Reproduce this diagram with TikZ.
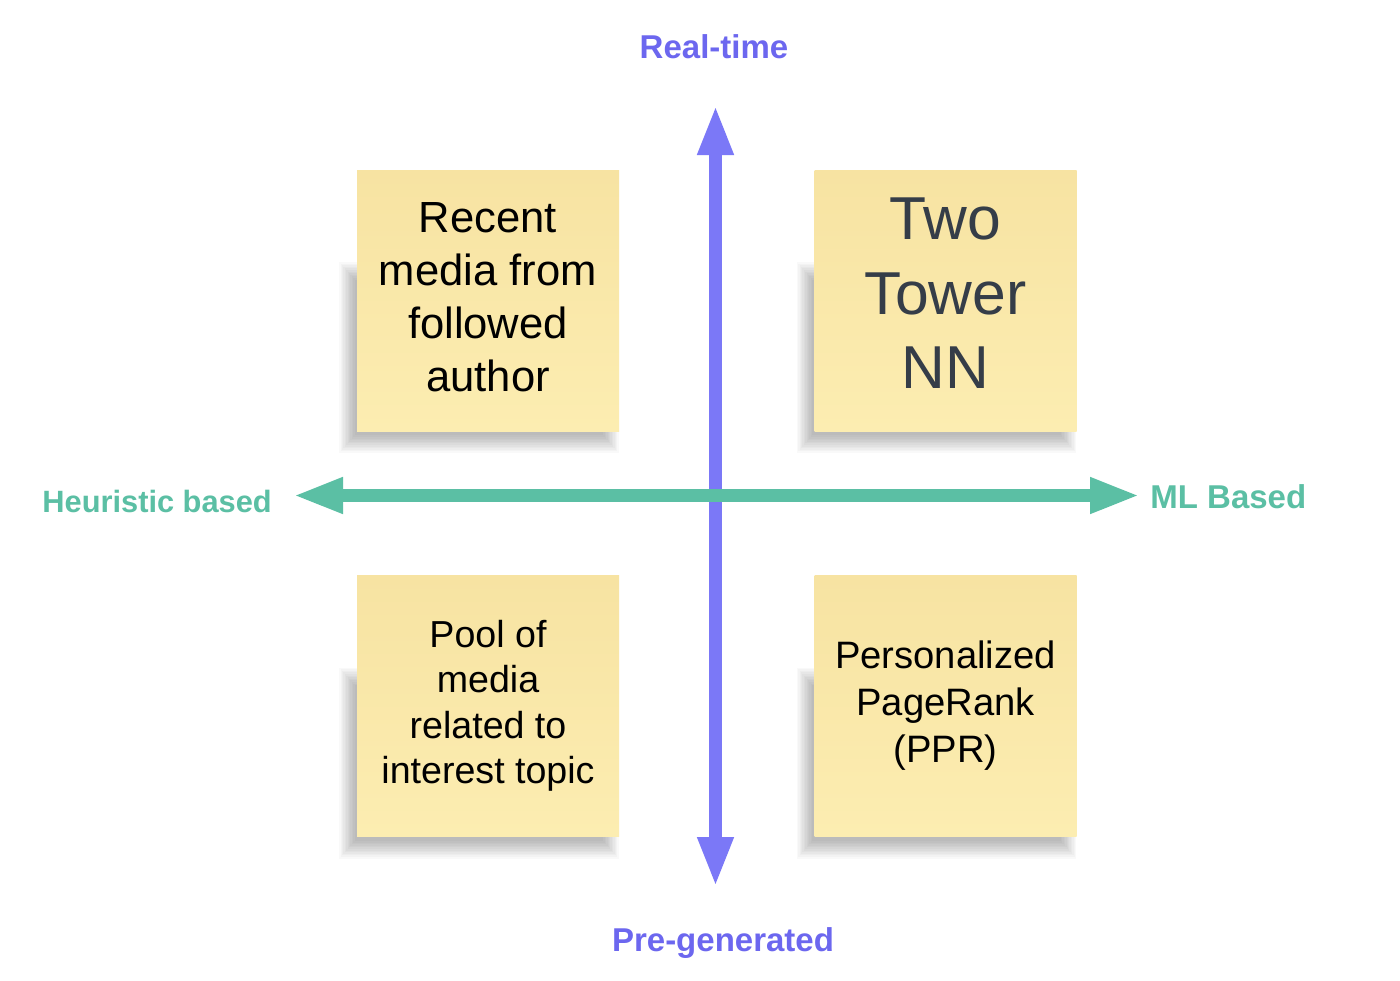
\documentclass[tikz,border=0pt]{standalone}
\usepackage{fontspec}
\setmainfont{Liberation Sans}
\usetikzlibrary{arrows.meta,backgrounds}
\definecolor{purp}{HTML}{7B78F7}
\definecolor{purptxt}{HTML}{6C67EF}
\definecolor{grn}{HTML}{5BBFA4}
\definecolor{notetop}{HTML}{F7E3A2}
\definecolor{notebot}{HTML}{FCEDB1}
\definecolor{slate}{HTML}{353D48}
\begin{document}
\begin{tikzpicture}[x=0.5pt,y=-0.5pt,
  note/.style={minimum width=131pt, minimum height=130.5pt, inner sep=0pt,
    top color=notetop, bottom color=notebot},
  notetext/.style={align=center, inner sep=0pt},
  axislabel/.style={inner sep=0pt, font=\fontsize{16.5}{20}\selectfont\bfseries},
  axisline/.style={line width=6.5pt, {Triangle[length=25pt,width=16.5pt]}-{Triangle[length=25pt,width=16.5pt]}},
  shadowlayer/.style={fill=black, opacity=0.022}
]
\useasboundingbox (0,0) rectangle (1400,980);

% notes
\node[note] (tl) at (488,300.5) {};
\node[note] (tr) at (945.5,300.5) {};
\node[note] (bl) at (488,706) {};
\node[note] (br) at (945.5,706) {};

\node[notetext, font=\fontsize{21.8}{26.5}\selectfont, text=black] (tlt) at ([yshift=1.5pt]tl.center)
  {Recent\\media from\\followed\\author};
\node[notetext, font=\fontsize{30.3}{37.25}\selectfont, text=slate] (trt) at ([yshift=3.5pt]tr.center)
  {Two\\Tower\\NN};
\node[notetext, font=\fontsize{18.8}{22.75}\selectfont, text=black] (blt) at (bl.center)
  {Pool of\\media\\related to\\interest topic};
\node[notetext, font=\fontsize{19.1}{23.5}\selectfont, text=black] (brt) at (br.center)
  {Personalized\\PageRank\\(PPR)};

% soft shadows behind the notes
\begin{pgfonlayer}{background}
\fill[white] (0,0) rectangle (1400,980);
\foreach \n in {tl,tr,bl,br}{
  \foreach \i in {0,...,11}{
    \fill[shadowlayer]
      ([xshift={-1pt-0.7*\i pt}, yshift={-2pt-0.8*\i pt}]\n.south west) rectangle
      ([xshift={-8pt+0.7*\i pt}, yshift={-55pt+0.8*\i pt}]\n.north east);
  }
}
\end{pgfonlayer}

% axes
\coordinate (vt) at (715.5,105);
\coordinate (vb) at (715.5,887);
\coordinate (hl) at (293,495.5);
\coordinate (hr) at (1140,495.5);
\draw[purp, axisline] (vt) -- (vb);
\draw[grn, axisline] (hl) -- (hr);

% labels
\node[axislabel, text=purptxt, anchor=base] (rt) at (714,58) {Real-time};
\node[axislabel, text=purptxt, anchor=base] (pg) at (723,951) {Pre-generated};
\node[axislabel, text=grn, anchor=base west, font=\fontsize{15.4}{20}\selectfont\bfseries] (hb) at (42,512) {Heuristic based};
\node[axislabel, text=grn, anchor=base west] (ml) at (1150,508) {ML Based};
\end{tikzpicture}
\end{document}
